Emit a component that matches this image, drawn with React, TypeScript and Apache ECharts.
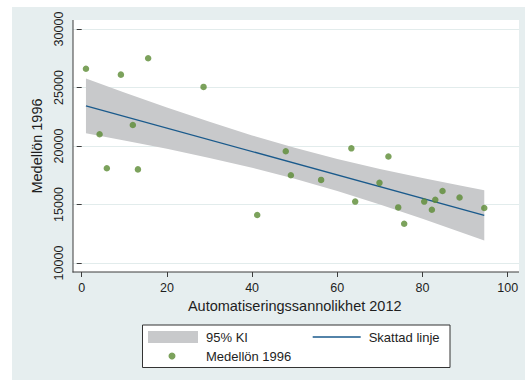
import React, { useEffect, useRef } from "react";
import * as echarts from "echarts";

// Scatter data: automation probability 2012 vs median wage 1996
const pointX = [1.0, 4.2, 5.9, 9.2, 12.0, 13.2, 15.6, 28.6, 41.2, 47.9, 49.1, 56.2, 63.3, 64.2, 69.9, 72.0, 74.3, 75.7, 80.4, 82.2, 83.0, 84.7, 88.7, 94.5];
const pointY = [26600, 21000, 18100, 26100, 21800, 18000, 27500, 25050, 14100, 19550, 17500, 17100, 19800, 15250, 16850, 19100, 14750, 13350, 15250, 14550, 15400, 16150, 15600, 14700];

// Fitted line
const fitX = [1, 94.5];
const fitY = [23430, 14070];

// 95% confidence band
const bandX = [1, 10, 20, 30, 40, 50, 60, 70, 80, 90, 94.5];
const bandUpper = [25760, 24580, 23300, 22070, 20905, 19840, 18890, 18035, 17260, 16535, 16220];
const bandLower = [21100, 20475, 19755, 18985, 18145, 17210, 16160, 15010, 13785, 12510, 11925];

const xTicks = { min: 0, max: 100, interval: 20 };
const yTicks = { min: 10000, max: 30000, interval: 5000 };

const FONT = "Liberation Sans, Arial, sans-serif";
const TXT = "#1e1e1e";
const AX = "#3c3c3c";
const BAND = "#c8c9cb";
const LINE = "#1a5a8c";
const DOT = "#5b8b33";

export default function App() {
  const ref = useRef<HTMLDivElement>(null);
  useEffect(() => {
    if (!ref.current) return;
    const chart = echarts.init(ref.current, undefined, { renderer: "svg" });
    const bandData = bandX.map((x, i) => [x, bandLower[i], bandUpper[i]]);
    const option: any = {
      animation: false,
      backgroundColor: "#ffffff",
      textStyle: { fontFamily: FONT },
      graphic: [
        { type: "rect", z: -10, shape: { x: 12, y: 7, width: 513, height: 373 }, style: { fill: "#e6eeef" } },
        { type: "rect", z: -9, shape: { x: 73, y: 20, width: 446, height: 252 }, style: { fill: "#ffffff" } },
        { type: "line", z: 50, shape: { x1: 73, y1: 20, x2: 73, y2: 272.5 }, style: { stroke: AX, lineWidth: 1 } },
        { type: "line", z: 50, shape: { x1: 72.5, y1: 272, x2: 519, y2: 272 }, style: { stroke: AX, lineWidth: 1 } },
        { type: "rect", z: -5, shape: { x: 142.5, y: 325, width: 307.5, height: 42.5 }, style: { fill: "#ffffff", stroke: "#333", lineWidth: 1 } },
      ],
      grid: [
        { left: 81.7, right: 17.3, top: 29, bottom: 117 },
        { left: 73, right: 6, top: 29, bottom: 117 },
      ],
      xAxis: [
        {
          type: "value", gridIndex: 0, ...xTicks, offset: 9,
          axisLine: { show: false },
          axisTick: { show: true, length: 5, lineStyle: { color: AX } },
          axisLabel: { color: TXT, fontSize: 12.5, margin: 9, fontFamily: FONT },
          splitLine: { show: false },
          name: "Automatiseringssannolikhet 2012",
          nameLocation: "middle", nameGap: 25,
          nameTextStyle: { color: TXT, fontSize: 14.5, fontFamily: FONT },
        },
        { type: "value", gridIndex: 1, min: 0, max: 1, show: false },
      ],
      yAxis: [
        {
          type: "value", gridIndex: 0, ...yTicks, offset: 8.7,
          axisLine: { show: false },
          axisTick: { show: true, length: 5, lineStyle: { color: AX } },
          axisLabel: { color: TXT, fontSize: 12.5, margin: 8, rotate: 90, fontFamily: FONT, formatter: (v: number) => String(v) },
          splitLine: { show: false },
          name: "Medellön 1996",
          nameLocation: "middle", nameGap: 27,
          nameTextStyle: { color: TXT, fontSize: 14.5, fontFamily: FONT },
        },
        {
          type: "value", gridIndex: 1, ...yTicks,
          axisLine: { show: false }, axisTick: { show: false }, axisLabel: { show: false },
          splitLine: { show: true, lineStyle: { color: "#e2ecec", width: 1 } },
        },
      ],
      legend: [
        {
          left: 148, top: 330.5, padding: 0, itemWidth: 50, itemHeight: 12,
          data: [{ name: "95% KI", icon: "rect", itemStyle: { color: BAND } }],
          textStyle: { color: TXT, fontSize: 13, fontFamily: FONT, padding: [0, 0, 0, 3] },
          selectedMode: false,
        },
        {
          left: 312.7, top: 330.5, padding: 0, itemWidth: 48, itemHeight: 1.5,
          data: [{ name: "Skattad linje", icon: "rect", itemStyle: { color: LINE } }],
          textStyle: { color: TXT, fontSize: 13, fontFamily: FONT, padding: [0, 0, 0, 3] },
          selectedMode: false,
        },
        {
          left: 168.5, top: 349.5, padding: 0, itemWidth: 7, itemHeight: 7,
          data: [{ name: "Medellön 1996", icon: "circle", itemStyle: { color: DOT } }],
          textStyle: { color: TXT, fontSize: 13, fontFamily: FONT, padding: [0, 0, 0, 25.5] },
          selectedMode: false,
        },
      ],
      series: [
        {
          name: "95% KI", type: "custom", xAxisIndex: 0, yAxisIndex: 0,
          data: bandData, color: BAND, silent: true, z: 1,
          encode: { x: 0, y: [1, 2] },
          renderItem: (params: any, api: any) => {
            if (params.dataIndex !== 0) return null;
            const top = bandData.map((d) => api.coord([d[0], d[2]]));
            const bottom = bandData.map((d) => api.coord([d[0], d[1]])).reverse();
            return {
              type: "polygon",
              shape: { points: top.concat(bottom) },
              style: { fill: BAND },
            };
          },
        },
        {
          name: "Skattad linje", type: "line", xAxisIndex: 0, yAxisIndex: 0,
          data: fitX.map((x, i) => [x, fitY[i]]),
          showSymbol: false, symbol: "none", color: LINE,
          lineStyle: { color: LINE, width: 1.4 }, z: 3,
        },
        {
          name: "Medellön 1996", type: "scatter", xAxisIndex: 0, yAxisIndex: 0,
          data: pointX.map((x, i) => [x, pointY[i]]),
          symbol: "circle", symbolSize: 6.5, itemStyle: { color: DOT }, z: 4,
        },
      ],
    };
    chart.setOption(option);
    return () => chart.dispose();
  }, []);
  return (
    <div
      ref={ref}
      style={{ position: "absolute", left: 0, top: 0, width: 525, height: 380 }}
    />
  );
}
